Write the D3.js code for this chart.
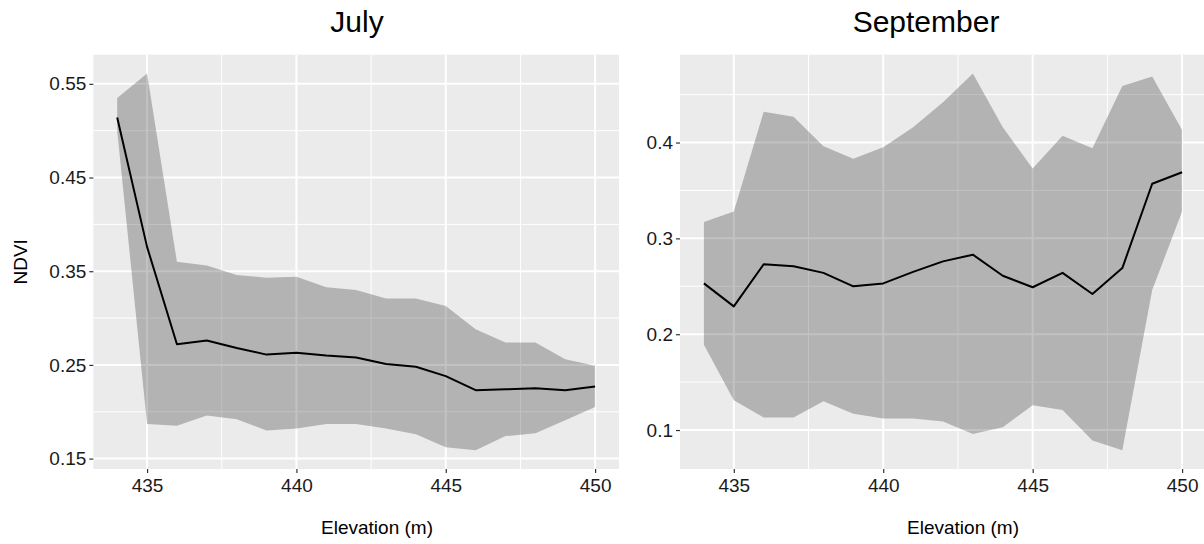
<!DOCTYPE html>
<html>
<head>
<meta charset="utf-8">
<script src="https://cdn.jsdelivr.net/npm/d3@7"></script>
<style>
  html, body { margin: 0; padding: 0; background: #fff; }
  svg { display: block; font-family: "Liberation Sans", Arial, Helvetica, sans-serif; }
</style>
</head>
<body>
<svg id="chart" width="1204" height="544"></svg>
<script>
// ---- data ----
const elevation = [434, 435, 436, 437, 438, 439, 440, 441, 442, 443, 444, 445, 446, 447, 448, 449, 450];

const julyMean  = [0.514, 0.376, 0.272, 0.276, 0.268, 0.261, 0.263, 0.260, 0.258, 0.251, 0.248, 0.238, 0.223, 0.224, 0.225, 0.223, 0.227];
const julyUpper = [0.535, 0.561, 0.360, 0.356, 0.346, 0.343, 0.344, 0.333, 0.330, 0.321, 0.321, 0.313, 0.288, 0.274, 0.274, 0.256, 0.249];
const julyLower = [0.500, 0.187, 0.185, 0.196, 0.192, 0.180, 0.182, 0.187, 0.187, 0.182, 0.176, 0.162, 0.159, 0.174, 0.177, 0.191, 0.205];

const septMean  = [0.253, 0.229, 0.273, 0.271, 0.264, 0.250, 0.253, 0.265, 0.276, 0.283, 0.261, 0.249, 0.264, 0.242, 0.269, 0.357, 0.369];
const septUpper = [0.317, 0.328, 0.432, 0.427, 0.396, 0.383, 0.395, 0.416, 0.442, 0.472, 0.416, 0.373, 0.407, 0.394, 0.459, 0.469, 0.413];
const septLower = [0.189, 0.131, 0.113, 0.113, 0.130, 0.117, 0.112, 0.112, 0.109, 0.096, 0.103, 0.126, 0.121, 0.089, 0.079, 0.246, 0.328];

const xTicks = [435, 440, 445, 450];
const xMinor = [437.5, 442.5, 447.5];
const julyYTicks = [0.15, 0.25, 0.35, 0.45, 0.55];
const julyYMinor = [0.20, 0.30, 0.40, 0.50];
const septYTicks = [0.1, 0.2, 0.3, 0.4];
const septYMinor = [0.15, 0.25, 0.35, 0.45];

const titles = ["July", "September"];
const xTitle = "Elevation (m)";
const yTitle = "NDVI";

// ---- layout ----
const svg = d3.select("#chart");
const panelTop = 54.7, panelBottom = 469;

const panels = [
  { title: titles[0], mean: julyMean, upper: julyUpper, lower: julyLower,
    yTicks: julyYTicks, yMinor: julyYMinor, fmt: d3.format(".2f"),
    x0: 93.3, x1: 619, titleX: 357, xTitleX: 377, yTitle: true },
  { title: titles[1], mean: septMean, upper: septUpper, lower: septLower,
    yTicks: septYTicks, yMinor: septYMinor, fmt: d3.format(".1f"),
    x0: 680, x1: 1206, titleX: 926, xTitleX: 963, yTitle: false }
];

function expand(ext, f) {
  const r = ext[1] - ext[0];
  return [ext[0] - r * f, ext[1] + r * f];
}

panels.forEach(p => {
  const x = d3.scaleLinear().domain(expand(d3.extent(elevation), 0.05)).range([p.x0, p.x1]);
  const yExt = [d3.min(p.lower), d3.max(p.upper)];
  const y = d3.scaleLinear().domain(expand(yExt, 0.05)).range([panelBottom, panelTop]);

  const g = svg.append("g");

  g.append("rect").attr("x", p.x0).attr("y", panelTop)
    .attr("width", p.x1 - p.x0).attr("height", panelBottom - panelTop).attr("fill", "#EBEBEB");

  g.selectAll(".ymin").data(p.yMinor).join("line")
    .attr("x1", p.x0).attr("x2", p.x1).attr("y1", d => y(d)).attr("y2", d => y(d))
    .attr("stroke", "#fff").attr("stroke-width", 1);
  g.selectAll(".xmin").data(xMinor).join("line")
    .attr("y1", panelTop).attr("y2", panelBottom).attr("x1", d => x(d)).attr("x2", d => x(d))
    .attr("stroke", "#fff").attr("stroke-width", 1);
  g.selectAll(".ymaj").data(p.yTicks).join("line")
    .attr("x1", p.x0).attr("x2", p.x1).attr("y1", d => y(d)).attr("y2", d => y(d))
    .attr("stroke", "#fff").attr("stroke-width", 2);
  g.selectAll(".xmaj").data(xTicks).join("line")
    .attr("y1", panelTop).attr("y2", panelBottom).attr("x1", d => x(d)).attr("x2", d => x(d))
    .attr("stroke", "#fff").attr("stroke-width", 2);

  const area = d3.area()
    .x((d, i) => x(elevation[i]))
    .y0((d, i) => y(p.lower[i]))
    .y1((d, i) => y(p.upper[i]));
  g.append("path").datum(p.mean).attr("d", area)
    .attr("fill", "#000").attr("fill-opacity", 0.238);

  const line = d3.line().x((d, i) => x(elevation[i])).y(d => y(d));
  g.append("path").datum(p.mean).attr("d", line)
    .attr("fill", "none").attr("stroke", "#000").attr("stroke-width", 2)
    .attr("stroke-linejoin", "round");

  const xAxis = d3.axisBottom(x).tickValues(xTicks).tickSize(4).tickPadding(6).tickFormat(d3.format("d"));
  const ax = g.append("g").attr("transform", `translate(0,${panelBottom})`).call(xAxis);
  ax.select(".domain").remove();
  ax.selectAll(".tick line").attr("stroke", "#333").attr("stroke-width", 1.2);
  ax.selectAll(".tick text").attr("fill", "#1a1a1a").attr("font-size", 19)
    .attr("font-family", "Liberation Sans, Arial, sans-serif");

  const yAxis = d3.axisLeft(y).tickValues(p.yTicks).tickSize(4).tickPadding(3).tickFormat(p.fmt);
  const ay = g.append("g").attr("transform", `translate(${p.x0},0)`).call(yAxis);
  ay.select(".domain").remove();
  ay.selectAll(".tick line").attr("stroke", "#333").attr("stroke-width", 1.2);
  ay.selectAll(".tick text").attr("fill", "#1a1a1a").attr("font-size", 19)
    .attr("font-family", "Liberation Sans, Arial, sans-serif");

  g.append("text").attr("x", p.titleX).attr("y", 32).attr("text-anchor", "middle")
    .attr("font-size", 30).attr("fill", "#000").text(p.title);
  g.append("text").attr("x", p.xTitleX).attr("y", 534).attr("text-anchor", "middle")
    .attr("font-size", 19).attr("fill", "#000").text(xTitle);
  if (p.yTitle) {
    g.append("text").attr("transform", `translate(27,${(panelTop + panelBottom) / 2}) rotate(-90)`)
      .attr("text-anchor", "middle").attr("font-size", 19).attr("fill", "#000").text(yTitle);
  }
});
</script>
</body>
</html>
